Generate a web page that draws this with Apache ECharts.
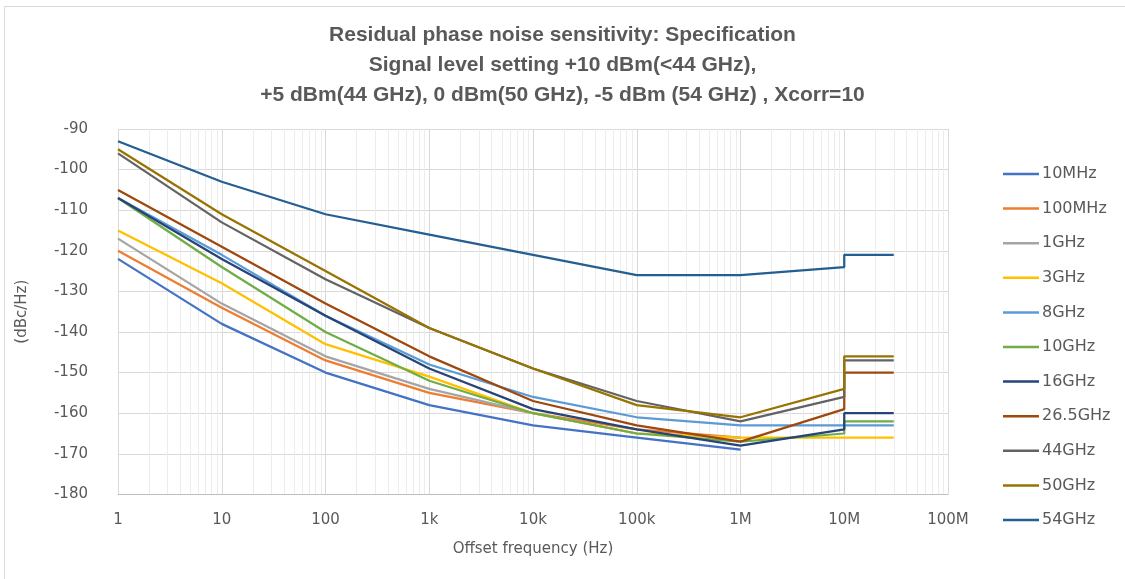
<!DOCTYPE html>
<html>
<head>
<meta charset="utf-8">
<script src="https://cdn.jsdelivr.net/npm/echarts@6/dist/echarts.min.js"></script>
<style>html,body{margin:0;padding:0;background:#fff}#c{width:1125px;height:579px}</style>
</head>
<body>
<div id="c"></div>
<script>
// Offset frequencies (Hz); 10M appears twice where the spec steps
const freqFull = [1, 10, 100, 1e3, 1e4, 1e5, 1e6, 1e7, 1e7, 3e7];
const freqShort = [1, 10, 100, 1e3, 1e4, 1e5, 1e6];

const seriesNames = ['10MHz','100MHz','1GHz','3GHz','8GHz','10GHz','16GHz','26.5GHz','44GHz','50GHz','54GHz'];
const seriesColors = ['#4472C4','#ED7D31','#A5A5A5','#FFC000','#5B9BD5','#70AD47','#264478','#9E480E','#636363','#997300','#255E91'];

const v10MHz  = [-122, -138, -150, -158, -163, -166, -169];
const v100MHz = [-120, -134, -147, -155, -160, -164, -166];
const v1GHz   = [-117, -133, -146, -154, -160, -165, -166];
const v3GHz   = [-115, -128, -143, -151, -160, -165, -166, -166, -166, -166];
const v8GHz   = [-107, -121, -136, -148, -156, -161, -163, -163, -163, -163];
const v10GHz  = [-107, -124, -140, -152, -160, -165, -167, -165, -162, -162];
const v16GHz  = [-107, -122, -136, -149, -159, -164, -168, -164, -160, -160];
const v26GHz  = [-105, -119, -133, -146, -157, -163, -167, -159, -150, -150];
const v44GHz  = [-96, -113, -127, -139, -149, -157, -162, -156, -147, -147];
const v50GHz  = [-95, -111, -125, -139, -149, -158, -161, -154, -146, -146];
const v54GHz  = [-93, -103, -111, -116, -121, -126, -126, -124, -121, -121];

const seriesValues = [v10MHz, v100MHz, v1GHz, v3GHz, v8GHz, v10GHz, v16GHz, v26GHz, v44GHz, v50GHz, v54GHz];

const xTickLabels = {1:'1', 10:'10', 100:'100', 1000:'1k', 10000:'10k', 100000:'100k', 1000000:'1M', 10000000:'10M', 100000000:'100M'};
const minorGridValues = [];
for (let d = 1; d < 1e8; d *= 10) { for (let m = 2; m <= 9; m++) minorGridValues.push(m * d); }

const FONT = 'DejaVu Sans';
const TXT = '#595959';

const series = seriesNames.map((name, i) => {
  const vals = seriesValues[i];
  const xs = vals.length === freqFull.length ? freqFull : freqShort;
  return {
    name: name,
    type: 'line',
    data: vals.map((v, k) => [xs[k], v]),
    symbol: 'none',
    lineStyle: { width: 2.25, color: seriesColors[i] },
    itemStyle: { color: seriesColors[i] },
    z: 3
  };
});
series.unshift({
  name: '_grid', type: 'line', data: [], silent: true, z: 1,
  markLine: {
    z: 0, silent: true, symbol: 'none', animation: false,
    label: { show: false },
    emphasis: { disabled: true },
    lineStyle: { color: '#ececec', width: 1, type: 'solid' },
    data: minorGridValues.map(v => ({ xAxis: v }))
  }
});

const chart = echarts.init(document.getElementById('c'), null, { renderer: 'canvas' });
chart.setOption({
  animation: false,
  backgroundColor: '#fff',
  graphic: [{ type: 'rect', shape: { x: 4.5, y: 6.5, width: 1130, height: 600 }, style: { fill: 'none', stroke: '#d9d9d9', lineWidth: 1 }, silent: true }],
  title: {
    text: 'Residual phase noise sensitivity: Specification\nSignal level setting +10 dBm(<44 GHz),\n+5 dBm(44 GHz), 0 dBm(50 GHz), -5 dBm (54 GHz) , Xcorr=10',
    left: 'center', top: 15,
    textStyle: { fontFamily: 'Liberation Sans', fontWeight: 'bold', fontSize: 21, color: TXT, lineHeight: 30 }
  },
  legend: {
    orient: 'vertical', left: 998, top: 161,
    data: seriesNames,
    icon: 'rect', itemWidth: 36, itemHeight: 2.5, itemGap: 18.6,
    textStyle: { fontFamily: FONT, fontSize: 16, color: TXT, padding: [0, 0, 0, -2] }
  },
  grid: { left: 118, right: 177, top: 129, bottom: 84.6, containLabel: false },
  xAxis: {
    type: 'log', logBase: 10, min: 1, max: 1e8,
    name: 'Offset frequency (Hz)', nameLocation: 'middle', nameGap: 47,
    nameTextStyle: { fontFamily: FONT, fontSize: 15, color: TXT },
    axisLine: { show: true, lineStyle: { color: '#bfbfbf', width: 1 } },
    axisTick: { show: false },
    axisLabel: { fontFamily: FONT, fontSize: 15, color: TXT, margin: 18, formatter: v => xTickLabels[Math.round(v)] || '' },
    splitLine: { show: true, lineStyle: { color: '#d9d9d9', width: 1 } },
    minorTick: { show: false }, minorSplitLine: { show: false }
  },
  yAxis: {
    type: 'value', min: -180, max: -90, interval: 10,
    name: '(dBc/Hz)', nameLocation: 'middle', nameGap: 88, nameRotate: 90,
    nameTextStyle: { fontFamily: FONT, fontSize: 15, color: TXT },
    axisLine: { show: false }, axisTick: { show: false },
    axisLabel: { fontFamily: FONT, fontSize: 15, color: TXT, margin: 30 },
    splitLine: { show: true, lineStyle: { color: '#d9d9d9', width: 1 } }
  },
  series: series
});
</script>
</body>
</html>
